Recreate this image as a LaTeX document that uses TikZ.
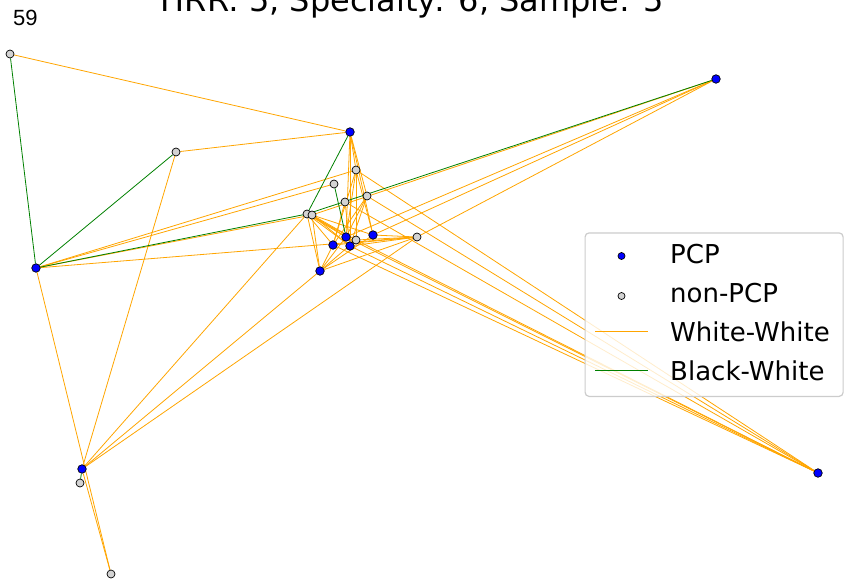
\documentclass[tikz,border=0pt]{standalone}
\usepackage{fontspec}
\setmainfont{DejaVu Sans}
\newfontfamily\arialfont{Liberation Sans}
\pgfdeclarelayer{bg}
\pgfsetlayers{bg,main}
\definecolor{wwcol}{HTML}{FFA500}
\definecolor{bwcol}{HTML}{008000}
\definecolor{pcpblue}{HTML}{0000FF}
\definecolor{npgray}{HTML}{D3D3D3}
\definecolor{legframe}{HTML}{CCCCCC}
\begin{document}
\begin{tikzpicture}[x=1pt,y=-1pt,
  pcp/.style={circle,draw=black,fill=pcpblue,line width=0.7pt,inner sep=0pt,minimum size=8.5pt},
  npcp/.style={circle,draw=black,fill=npgray,line width=0.7pt,inner sep=0pt,minimum size=8pt},
  pcpsmall/.style={pcp,minimum size=7pt},
  npcpsmall/.style={npcp,minimum size=7pt},
  wwline/.style={draw=wwcol,line width=0.8pt},
  bwline/.style={draw=bwcol,line width=0.8pt},
  legtext/.style={anchor=base west,inner sep=0pt,font=\fontsize{26}{26}\selectfont},
  legbox/.style={draw=legframe,line width=1.2pt,rounded corners=4pt,fill=white,fill opacity=0.8,anchor=north west,inner sep=0pt}]
\useasboundingbox (0,0) rectangle (844,579);
% title and panel number
\node[anchor=base,inner sep=0pt,font=\fontsize{32}{32}\selectfont] (title) at (412.5,11) {HRR: 5, Specialty: 6, Sample: 5};
\node[anchor=base west,inner sep=0pt,font=\arialfont\fontsize{22}{22}\selectfont] (num) at (13,25) {59};
% nodes
\node[npcp] (A) at (10,54) {};
\node[pcp]  (B) at (350,132) {};
\node[npcp] (C) at (176,152) {};
\node[pcp]  (D) at (716,79) {};
\node[pcp]  (E) at (36,268) {};
\node[pcp]  (F) at (82,469) {};
\node[npcp] (G) at (80,483) {};
\node[npcp] (H) at (111,574) {};
\node[pcp]  (I) at (818,473) {};
\node[npcp] (c1) at (356,170) {};
\node[npcp] (c2) at (334,184) {};
\node[npcp] (c3) at (345,202) {};
\node[npcp] (c4) at (367,196) {};
\node[npcp] (c5) at (307,214) {};
\node[npcp] (c6) at (312,215) {};
\node[pcp]  (c7) at (346,237) {};
\node[pcp]  (c8) at (373,235) {};
\node[npcp] (c9) at (356,240) {};
\node[pcp]  (c10) at (333,245) {};
\node[pcp]  (c11) at (350,246) {};
\node[npcp] (c12) at (417,237) {};
\node[pcp]  (c13) at (320,271) {};
\begin{pgfonlayer}{bg}
% White-White edges
\foreach \a/\b in {A/B, C/B, C/F, E/H, F/H, E/c1, E/c2, E/c6, E/c12,
  c6/D, c12/D, c8/D, c7/D, F/c5, F/c13, F/c12,
  B/c1, B/c7, B/c11, B/c8, B/c4,
  c1/c7, c1/c10, c1/c8, c1/c9, c1/I,
  c4/c10, c4/c7, c4/c11, c4/I,
  c3/c11, c3/I, c3/c10,
  c5/c7, c5/c10, c5/c11, c5/c9, c5/c13,
  c6/c7, c6/c8, c6/c13, c6/c9, c6/c11,
  c13/c7, c13/c10, c13/c9, c13/c8, c13/c12,
  c12/c8, c12/c11, c12/c9, c12/c10,
  c7/I, c9/I, c11/I, c10/I}
  {\draw[wwline] (\a) -- (\b);}
% Black-White edges
\foreach \a/\b in {A/E, E/C, E/c5, c5/D, c5/B, c2/c7, F/G}
  {\draw[bwline] (\a) -- (\b);}
\end{pgfonlayer}
% legend
\node[legbox,minimum width=258pt,minimum height=163.5pt] (legend) at (584.5,232.3) {};
\node[pcpsmall] (lp) at (621.5,256) {};
\node[npcpsmall] (ln) at (621.5,296) {};
\coordinate (lw1) at (595,331.5);
\coordinate (lw2) at (648,331.5);
\coordinate (lb1) at (595,370.5);
\coordinate (lb2) at (648,370.5);
\draw[wwline] (lw1) -- (lw2);
\draw[bwline] (lb1) -- (lb2);
\node[legtext] (t1) at (670,263) {PCP};
\node[legtext] (t2) at (670,302) {non-PCP};
\node[legtext] (t3) at (670,341) {White-White};
\node[legtext] (t4) at (670,380) {Black-White};
\end{tikzpicture}
\end{document}
